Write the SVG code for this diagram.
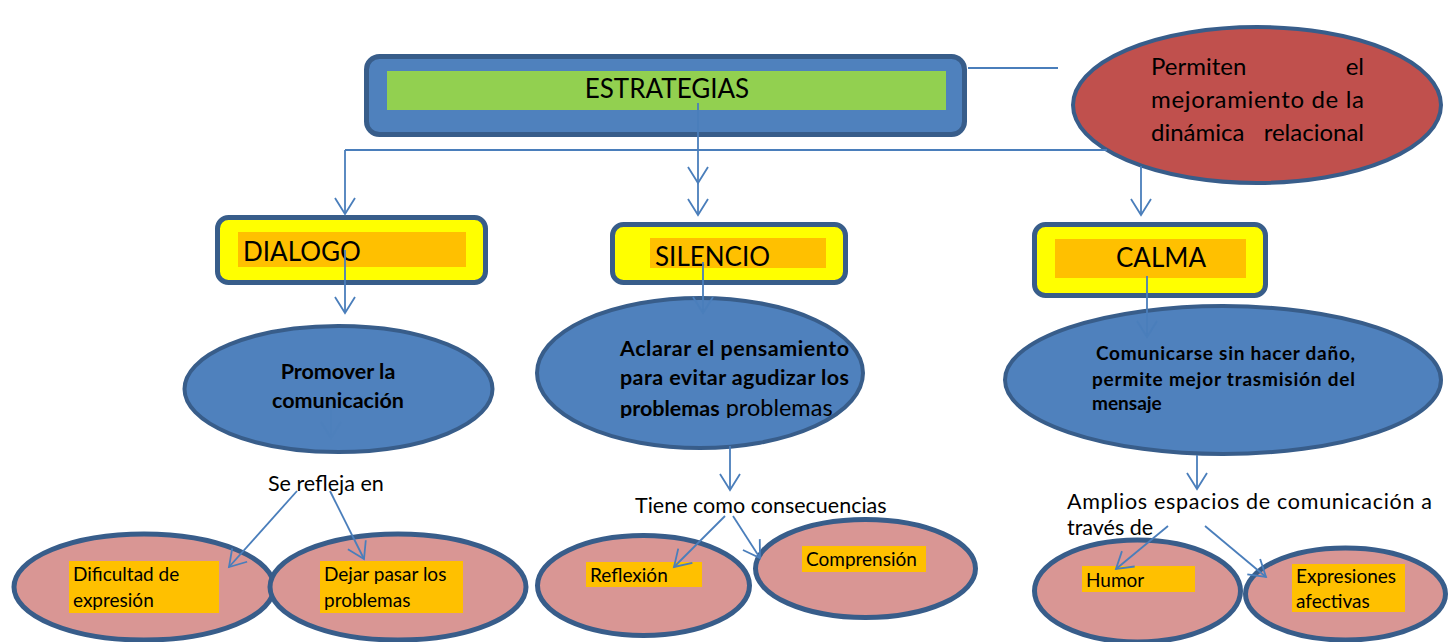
<svg xmlns="http://www.w3.org/2000/svg" width="1450" height="642" viewBox="0 0 1450 642">
<style>
.t{font-family:Lato,"Liberation Sans",sans-serif;fill:#000}
.b{font-weight:bold}
.box{stroke:#385D8A;stroke-width:5}
.blue{fill:#4F81BD;stroke:#385D8A;stroke-width:4}
.pink{fill:#D99694;stroke:#385D8A;stroke-width:5}
.lab{fill:#FFC000}
.c{fill:none;stroke:#4A7EBB;stroke-width:1.8}
</style>
<defs>
<marker id="arr" markerUnits="userSpaceOnUse" markerWidth="22" markerHeight="24" refX="17" refY="11" orient="auto" overflow="visible">
<path d="M1,1 L17,11 L1,21" fill="none" stroke="#4A7EBB" stroke-width="1.8"/>
</marker>
<clipPath id="clipS"><rect x="530" y="300" width="340" height="118"/></clipPath>
</defs>
<rect width="1450" height="642" fill="#fff"/>

<g id="estrategias">
<rect class="box" x="366.5" y="56.5" width="598" height="78" rx="13" fill="#4F81BD"/>
<rect x="387" y="71" width="559" height="39" fill="#92D050"/>
<text class="t" x="667" y="98" font-size="26" text-anchor="middle">ESTRATEGIAS</text>
</g>

<g id="permiten">
<ellipse cx="1257" cy="105" rx="184" ry="78" fill="#C0504D" stroke="#385D8A" stroke-width="4"/>
<text class="t" x="1151" y="75" font-size="24">Permiten</text>
<text class="t" x="1364" y="75" font-size="24" text-anchor="end">el</text>
<text class="t" x="1151" y="108" font-size="24" textLength="213" lengthAdjust="spacing">mejoramiento de la</text>
<text class="t" x="1151" y="141" font-size="24">dinámica</text>
<text class="t" x="1364" y="141" font-size="24" text-anchor="end">relacional</text>
</g>

<g id="dialogo">
<rect class="box" x="217.5" y="217.5" width="268" height="65" rx="11" fill="#FFFF00"/>
<rect class="lab" x="238" y="232" width="228" height="35"/>
<text class="t" x="243" y="261" font-size="26">DIALOGO</text>
</g>

<g id="silencio">
<rect class="box" x="612.5" y="224.5" width="233" height="58" rx="11" fill="#FFFF00"/>
<rect class="lab" x="650" y="238" width="176" height="30"/>
<text class="t" x="655" y="266" font-size="26">SILENCIO</text>
</g>

<g id="calma">
<rect class="box" x="1034.5" y="224.5" width="231" height="71" rx="11" fill="#FFFF00"/>
<rect class="lab" x="1055" y="239" width="191" height="39"/>
<text class="t" x="1116" y="267" font-size="26">CALMA</text>
</g>

<g id="promover">
<ellipse class="blue" cx="338.5" cy="389" rx="154" ry="63"/>
<text class="t b" x="338" y="379" font-size="21.5" text-anchor="middle">Promover la</text>
<text class="t b" x="338" y="408" font-size="21.5" text-anchor="middle">comunicación</text>
</g>

<g id="aclarar">
<ellipse class="blue" cx="700" cy="373" rx="163" ry="75"/>
<text class="t b" x="620" y="356" font-size="21.5" textLength="229" lengthAdjust="spacing">Aclarar el pensamiento</text>
<text class="t b" x="620" y="385" font-size="21.5" textLength="229" lengthAdjust="spacing">para evitar agudizar los</text>
<g clip-path="url(#clipS)">
<text class="t" x="620" y="416" font-size="21.5"><tspan class="b">problemas</tspan><tspan font-size="23.5"> problemas</tspan></text>
</g>
</g>

<g id="comunicarse">
<ellipse class="blue" cx="1223" cy="380" rx="218" ry="74"/>
<text class="t b" x="1096" y="360" font-size="19" textLength="259" lengthAdjust="spacing">Comunicarse sin hacer daño,</text>
<text class="t b" x="1092" y="386" font-size="19" textLength="263" lengthAdjust="spacing">permite mejor trasmisión del</text>
<text class="t b" x="1092" y="410" font-size="19">mensaje</text>
</g>

<g id="se-refleja">
<text class="t" x="268" y="491" font-size="21.5">Se refleja en</text>
</g>
<g id="tiene">
<text class="t" x="635" y="513" font-size="21.5">Tiene como consecuencias</text>
</g>
<g id="amplios">
<text class="t" x="1067" y="509" font-size="21.5" textLength="365" lengthAdjust="spacing">Amplios espacios de comunicación a</text>
<text class="t" x="1067" y="535" font-size="21.5">través de</text>
</g>

<g id="dificultad">
<ellipse class="pink" cx="144" cy="587" rx="130" ry="53"/>
<rect class="lab" x="69" y="561" width="150" height="52"/>
<text class="t" x="73" y="581" font-size="19">Dificultad de</text>
<text class="t" x="73" y="607" font-size="19">expresión</text>
</g>
<g id="dejar">
<ellipse class="pink" cx="398" cy="587" rx="128" ry="53"/>
<rect class="lab" x="320" y="561" width="143" height="52"/>
<text class="t" x="324" y="581" font-size="19">Dejar pasar los</text>
<text class="t" x="324" y="607" font-size="19">problemas</text>
</g>
<g id="reflexion">
<ellipse class="pink" cx="643.5" cy="585.5" rx="106" ry="50"/>
<rect class="lab" x="586" y="562" width="116" height="25"/>
<text class="t" x="590" y="582" font-size="19">Reflexión</text>
</g>
<g id="comprension">
<ellipse class="pink" cx="865.5" cy="568.5" rx="110" ry="49"/>
<rect class="lab" x="802" y="546" width="124" height="26"/>
<text class="t" x="806" y="566" font-size="19">Comprensión</text>
</g>
<g id="humor">
<ellipse class="pink" cx="1137.5" cy="591" rx="103" ry="51"/>
<rect class="lab" x="1082" y="566" width="113" height="26"/>
<text class="t" x="1086" y="587" font-size="19">Humor</text>
</g>
<g id="expresiones">
<ellipse class="pink" cx="1345.5" cy="594" rx="100" ry="46"/>
<rect class="lab" x="1292" y="564" width="113" height="48"/>
<text class="t" x="1296" y="583" font-size="19">Expresiones</text>
<text class="t" x="1296" y="608" font-size="19">afectivas</text>
</g>

<g id="connectors">
<path class="c" d="M968,68 L1058,68"/>
<path class="c" d="M345,150 L1107,150"/>
<path class="c" d="M345,150 L345,214" marker-end="url(#arr)"/>
<path class="c" d="M698,103 L698,183 L698,215" marker-mid="url(#arr)" marker-end="url(#arr)"/>
<path class="c" d="M1141,166 L1141,215" marker-end="url(#arr)"/>
<path class="c" d="M345,250 L345,313" marker-end="url(#arr)"/>
<path class="c" d="M703,262 L703,313" marker-end="url(#arr)"/>
<path class="c" d="M1147,276 L1147,337" marker-end="url(#arr)"/>
<path class="c" d="M331,400 L331,438" marker-end="url(#arr)" opacity="0.25"/>
<path class="c" d="M730,446 L730,490" marker-end="url(#arr)"/>
<path class="c" d="M1197,455 L1197,489" marker-end="url(#arr)"/>
<path class="c" d="M297,491 L229,567" marker-end="url(#arr)"/>
<path class="c" d="M330,491 L364,559" marker-end="url(#arr)"/>
<path class="c" d="M725,516 L674,567" marker-end="url(#arr)"/>
<path class="c" d="M733,516 L760,558" marker-end="url(#arr)"/>
<path class="c" d="M1168,526 L1116,569" marker-end="url(#arr)"/>
<path class="c" d="M1205,526 L1266,577" marker-end="url(#arr)"/>
</g>
</svg>
